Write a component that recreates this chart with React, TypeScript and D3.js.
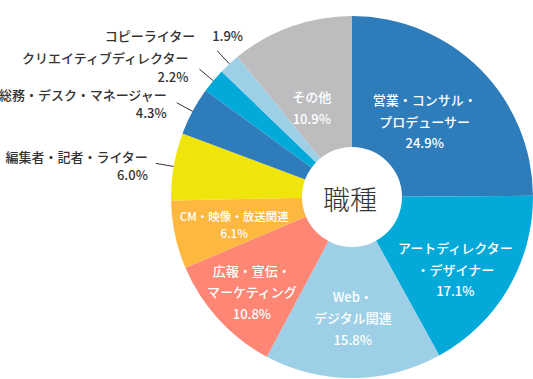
import React from "react";
import * as d3 from "d3";

const categories = [
  "営業・コンサル・プロデューサー",
  "アートディレクター・デザイナー",
  "Web・デジタル関連",
  "広報・宣伝・マーケティング",
  "CM・映像・放送関連",
  "編集者・記者・ライター",
  "総務・デスク・マネージャー",
  "クリエイティブディレクター",
  "コピーライター",
  "その他",
];
const values = [24.9, 17.1, 15.8, 10.8, 6.1, 6.0, 4.3, 2.2, 1.9, 10.9];
const labelLines = [
  ["営業・コンサル・", "プロデューサー"],
  ["アートディレクター", "・デザイナー"],
  ["Web・", "デジタル関連"],
  ["広報・宣伝・", "マーケティング"],
  ["CM・映像・放送関連"],
  ["編集者・記者・ライター"],
  ["総務・デスク・マネージャー"],
  ["クリエイティブディレクター"],
  ["コピーライター"],
  ["その他"],
];
const centerTitle = "職種";

// styling / layout (not data)
const colors = ["#2f7cba", "#03aad9", "#9dcfe6", "#fd8674", "#fdb840", "#efe40b", "#2f7cba", "#03aad9", "#9dcfe6", "#bdbdbf"];
// inside labels: [radius, angle offset deg, dx, dy, fontSize]
const insideLayout: Record<number, [number, number, number, number, number]> = {
  0: [105, -1, 0, 0, 13],
  1: [126, 4.5, 0, 0, 13],
  2: [121, 0, 0, 0, 13],
  3: [138, -1, 0, 0, 13],
  4: [121, -1.3, 0, 0, 11.5],
  9: [98, -4.6, 0, 0, 13],
};
// outside labels: index -> [textRightDx, nameDy, pctDy, pctInline]
const outsideLayout: Record<number, [number, number, number, boolean]> = {
  5: [-8, -7, 11, false],
  6: [-10, -8, 10, false],
  7: [-11, -12, 7, false],
  8: [-22, -15, -15, true],
};

const W = 533, H = 379;
const cx = 352, cy = 197, R = 181, r0 = 50;
const FONT = "'Noto Sans CJK JP', 'Noto Sans', sans-serif";

export default function App() {
  const pie = d3.pie<number>().sort(null).value((d) => d)(values);
  const arc = d3.arc<d3.PieArcDatum<number>>().innerRadius(0).outerRadius(R);

  return (
    <svg width={W} height={H} style={{ position: "absolute", left: 0, top: 0 }} fontFamily={FONT}>
      <g transform={`translate(${cx},${cy})`}>
        {pie.map((p, i) => (
          <path key={i} d={arc(p) || ""} fill={colors[i]} />
        ))}
        <circle r={r0} fill="#fff" />
        <text x={-2} y={1} textAnchor="middle" dominantBaseline="central" fontSize={27} fontWeight={300} fill="#333">
          {centerTitle}
        </text>
        {pie.map((p, i) => {
          const mid = (p.startAngle + p.endAngle) / 2;
          const lay = insideLayout[i];
          if (lay) {
            const [rad, aoff, dx, dy, fs] = lay;
            const a = mid + (aoff * Math.PI) / 180;
            const x = rad * Math.sin(a) + dx;
            const y = -rad * Math.cos(a) + dy;
            const lines = [...labelLines[i], `${values[i].toFixed(1)}%`];
            const lh = fs >= 13 ? 21.5 : 17;
            const y0 = y - ((lines.length - 1) * lh) / 2;
            return (
              <g key={"l" + i}>
                {lines.map((t, k) => (
                  <text key={k} x={x} y={y0 + k * lh} textAnchor="middle" dominantBaseline="central" fontSize={fs} fontWeight={500} fill="#fff">
                    {t}
                  </text>
                ))}
              </g>
            );
          }
          const o = outsideLayout[i];
          if (!o) return null;
          const [tdx, ndy, pdy, inline] = o;
          const x1 = R * Math.sin(mid), y1 = -R * Math.cos(mid);
          const x2 = (R + 18) * Math.sin(mid), y2 = -(R + 18) * Math.cos(mid);
          const pct = `${values[i].toFixed(1)}%`;
          return (
            <g key={"o" + i}>
              <line x1={x1} y1={y1} x2={x2} y2={y2} stroke="#333" strokeWidth={1} />
              <text x={x2 + tdx} y={y2 + ndy} textAnchor="end" dominantBaseline="central" fontSize={13} fontWeight={500} fill="#333">
                {labelLines[i][0]}
              </text>
              {inline ? (
                <text x={x2 - 5} y={y2 + pdy} textAnchor="start" dominantBaseline="central" fontSize={13} fontWeight={500} fill="#333">
                  {pct}
                </text>
              ) : (
                <text x={x2 + tdx} y={y2 + pdy} textAnchor="end" dominantBaseline="central" fontSize={13} fontWeight={500} fill="#333">
                  {pct}
                </text>
              )}
            </g>
          );
        })}
      </g>
    </svg>
  );
}
